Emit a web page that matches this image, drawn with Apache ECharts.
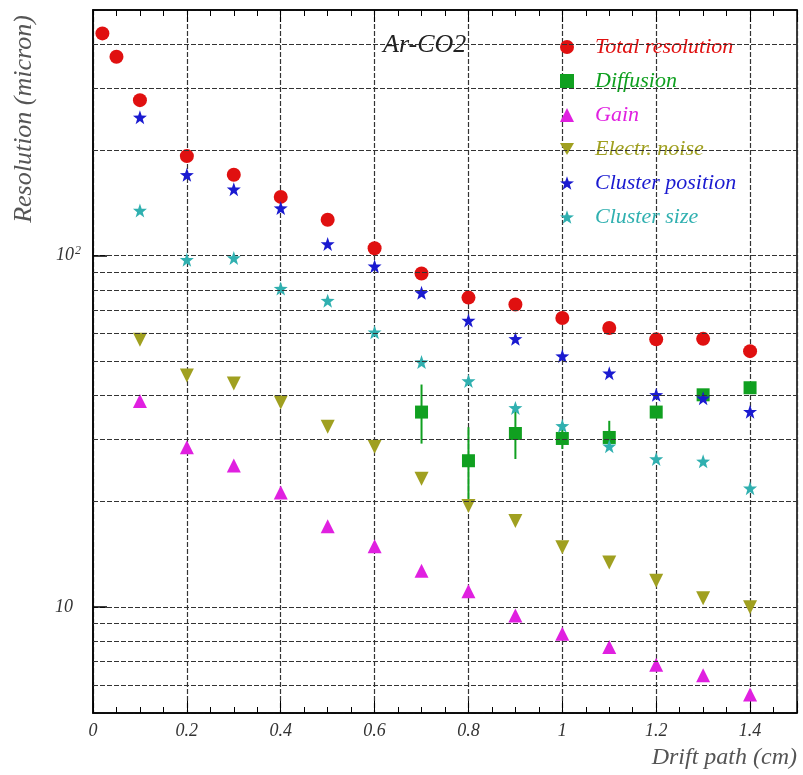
<!DOCTYPE html>
<html>
<head>
<meta charset="utf-8">
<script src="https://cdn.jsdelivr.net/npm/echarts@6/dist/echarts.min.js"></script>
<style>
  html, body { margin: 0; padding: 0; background: #fff; }
  #chart { width: 803px; height: 775px; }
</style>
</head>
<body>
<div id="chart"></div>
<script>
// drift path values (cm)
const totalX = [0.02, 0.05, 0.1, 0.2, 0.3, 0.4, 0.5, 0.6, 0.7, 0.8, 0.9, 1.0, 1.1, 1.2, 1.3, 1.4];
const stepX = [0.1, 0.2, 0.3, 0.4, 0.5, 0.6, 0.7, 0.8, 0.9, 1.0, 1.1, 1.2, 1.3, 1.4];
const diffX = [0.7, 0.8, 0.9, 1.0, 1.1, 1.2, 1.3, 1.4];

// resolution (micron)
const totalRes = [429, 368, 277, 192, 170, 147, 126.5, 105, 89, 76, 72.6, 66.5, 62.3, 57.8, 58, 53.5];
const diffusion = [35.9, 26.1, 31.2, 30.2, 30.4, 35.9, 40.2, 42.1];
const diffLow = [29.2, 19.6, 26.4, 28.2, 28.1, 34.8, 39.2, 41.2];
const diffHigh = [43.0, 32.5, 37.4, 32.4, 33.9, 37.0, 41.2, 43.0];
const gain = [38.6, 28.5, 25.3, 21.2, 17.0, 14.9, 12.7, 11.1, 9.47, 8.4, 7.7, 6.86, 6.4, 5.64];
const electrNoise = [57.7, 45.6, 43.3, 38.2, 32.6, 28.6, 23.2, 19.4, 17.6, 14.8, 13.4, 11.9, 10.6, 10.0];
const clusterPos = [247.6, 169.8, 154.6, 136.6, 108, 93.3, 78.4, 65.4, 58.0, 51.8, 46.3, 40.2, 39.3, 36.0];
const clusterSize = [134.5, 97.4, 98.5, 80.6, 74.5, 60.6, 49.8, 44.0, 36.9, 32.8, 28.7, 26.4, 26.0, 21.8];

// log grid lines between the decades
const logGrid = [6, 7, 8, 9, 20, 30, 40, 50, 60, 70, 80, 90, 200, 300, 400];

const names = ["Total resolution", "Diffusion", "Gain", "Electr. noise", "Cluster position", "Cluster size"];
const colors = ["#e01010", "#10a020", "#e020e0", "#a0a020", "#1a1ad0", "#30b0b0"];
const STAR = "path://M0,-10L2.35,-3.24L9.51,-3.09L3.8,1.24L5.88,8.09L0,4L-5.88,8.09L-3.8,1.24L-9.51,-3.09L-2.35,-3.24Z";
const DOWN = "path://M0,0L20,0L10,17.3Z";
const symbols = ["circle", "rect", "triangle", DOWN, STAR, STAR];
const FONT = "Liberation Serif";

function pairs(xs, ys) {
  return xs.map((x, i) => [x, ys[i]]);
}

const gridLine = { color: "#333", width: 1.2, type: [5, 2] };

const chart = echarts.init(document.getElementById("chart"));
chart.setOption({
  backgroundColor: "#fff",
  animation: false,
  grid: { left: 93, right: 6, top: 10, bottom: 62, show: true, borderColor: "#000", borderWidth: 1.5 },
  title: {
    text: "Ar-CO2",
    left: 378,
    top: 27,
    textStyle: { fontFamily: FONT, fontStyle: "italic", fontWeight: "normal", fontSize: 26, color: "#222" },
  },
  legend: {
    orient: "vertical",
    left: 555,
    top: 31,
    itemWidth: 14,
    itemHeight: 14,
    itemGap: 12,
    itemStyle: { opacity: 1 },
    textStyle: { fontFamily: FONT, fontStyle: "italic", fontSize: 22, padding: [0, 0, 0, 16] },
    data: names.map((n, i) => ({ name: n, icon: symbols[i], textStyle: { color: colors[i] } })),
  },
  graphic: [
    {
      type: "text",
      x: 24,
      y: 119,
      rotation: Math.PI / 2,
      style: {
        text: "Resolution (micron)",
        font: "italic 26px 'Liberation Serif'",
        fill: "#555",
        align: "center",
        verticalAlign: "middle",
      },
    },
    {
      type: "text",
      right: 6,
      top: 746,
      style: { text: "Drift path (cm)", font: "italic 24px 'Liberation Serif'", fill: "#555" },
    },
  ],
  xAxis: [
    {
      type: "value",
      min: 0,
      max: 1.5,
      interval: 0.2,
      axisLine: { lineStyle: { color: "#000", width: 1.5 } },
      axisTick: { inside: true, length: 12, lineStyle: { color: "#000" } },
      minorTick: { show: true, splitNumber: 4, length: 6, lineStyle: { color: "#000" } },
      splitLine: { show: true, lineStyle: gridLine },
      axisLabel: {
        showMaxLabel: false,
        margin: 9,
        fontFamily: FONT,
        fontStyle: "italic",
        fontSize: 18,
        color: "#333",
      },
    },
    {
      type: "value",
      position: "top",
      min: 0,
      max: 1.5,
      interval: 0.2,
      axisLine: { lineStyle: { color: "#000", width: 1.5 } },
      axisTick: { inside: true, length: 12, lineStyle: { color: "#000" } },
      minorTick: { show: true, splitNumber: 4, length: 6, lineStyle: { color: "#000" } },
      splitLine: { show: false },
      axisLabel: { show: false },
    },
  ],
  yAxis: {
    type: "log",
    logBase: 10,
    min: 5,
    max: 500,
    axisLine: { lineStyle: { color: "#000", width: 1.5 } },
    axisTick: { inside: true, length: 14, lineStyle: { color: "#000", width: 1.5 } },
    splitLine: { show: true, lineStyle: gridLine },
    axisLabel: {
      showMinLabel: false,
      showMaxLabel: false,
      margin: 12,
      fontFamily: FONT,
      fontStyle: "italic",
      fontSize: 18,
      color: "#333",
      formatter: (v) => (Math.round(v) === 100 ? "{b|10}{s|2}" : Math.round(v) === 10 ? "{b|10}{p|}" : ""),
      rich: {
        b: { fontFamily: FONT, fontStyle: "italic", fontSize: 18, color: "#333" },
        s: { fontFamily: FONT, fontStyle: "italic", fontSize: 12, color: "#333", verticalAlign: "top", padding: [0, 0, 10, 1] },
        p: { width: 8 },
      },
    },
  },
  series: [
    {
      name: "grid",
      type: "line",
      data: [],
      z: 1,
      markLine: {
        silent: true,
        symbol: "none",
        label: { show: false },
        lineStyle: gridLine,
        data: logGrid.map((v) => ({ yAxis: v })),
      },
    },
    {
      name: "diffErr",
      type: "custom",
      z: 2,
      data: diffX.map((x, i) => [x, diffLow[i], diffHigh[i]]),
      renderItem: (params, api) => {
        const lo = api.coord([api.value(0), api.value(1)]);
        const hi = api.coord([api.value(0), api.value(2)]);
        return {
          type: "line",
          shape: { x1: lo[0], y1: lo[1], x2: hi[0], y2: hi[1] },
          style: { stroke: colors[1], lineWidth: 2 },
        };
      },
    },
    {
      name: names[0], type: "scatter", z: 3, symbol: symbols[0], symbolSize: 14,
      itemStyle: { color: colors[0], opacity: 1 }, data: pairs(totalX, totalRes),
    },
    {
      name: names[1], type: "scatter", z: 3, symbol: symbols[1], symbolSize: 13,
      itemStyle: { color: colors[1], opacity: 1 }, data: pairs(diffX, diffusion),
    },
    {
      name: names[2], type: "scatter", z: 3, symbol: symbols[2], symbolSize: 14,
      itemStyle: { color: colors[2], opacity: 1 }, data: pairs(stepX, gain),
    },
    {
      name: names[3], type: "scatter", z: 3, symbol: symbols[3], symbolSize: 14,
      itemStyle: { color: colors[3], opacity: 1 }, data: pairs(stepX, electrNoise),
    },
    {
      name: names[4], type: "scatter", z: 3, symbol: symbols[4], symbolSize: 14,
      itemStyle: { color: colors[4], opacity: 1 }, data: pairs(stepX, clusterPos),
    },
    {
      name: names[5], type: "scatter", z: 3, symbol: symbols[5], symbolSize: 14,
      itemStyle: { color: colors[5], opacity: 1 }, data: pairs(stepX, clusterSize),
    },
  ],
});
</script>
</body>
</html>
